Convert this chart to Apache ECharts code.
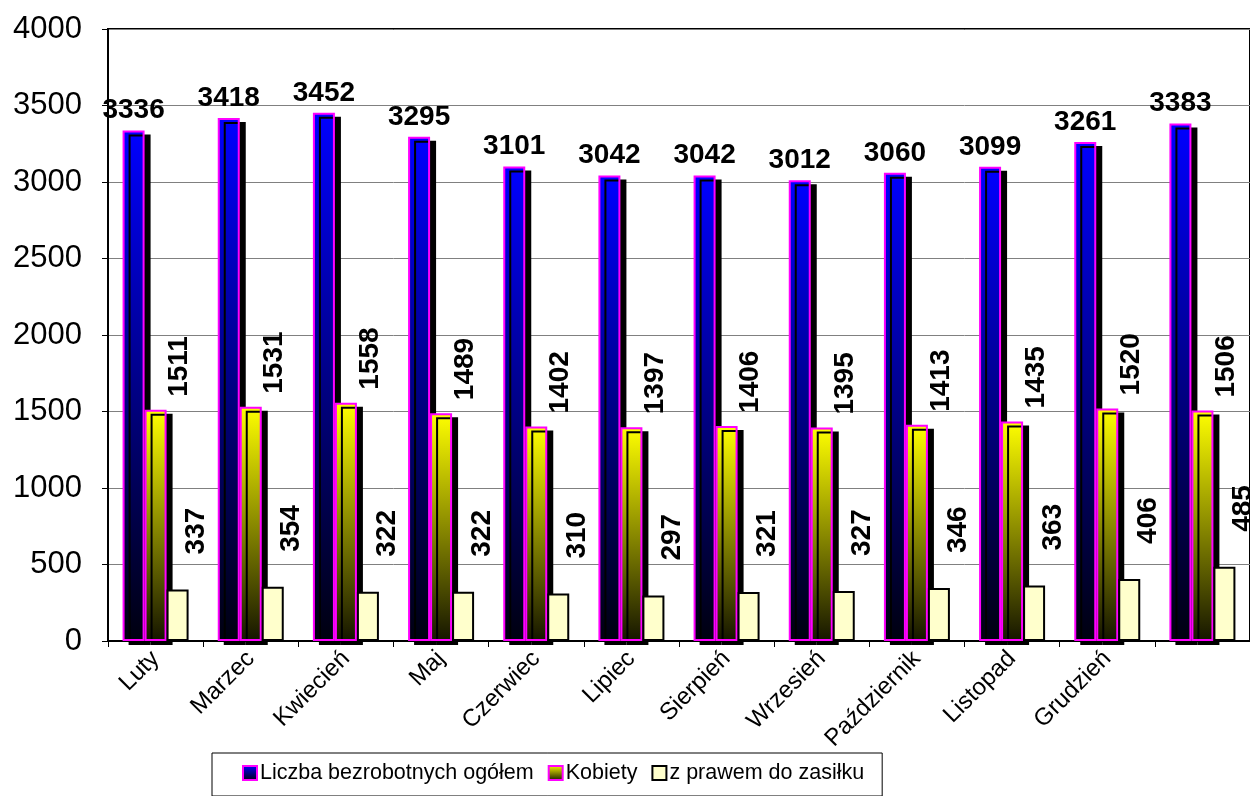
<!DOCTYPE html>
<html>
<head>
<meta charset="utf-8">
<script src="https://cdn.jsdelivr.net/npm/echarts@6/dist/echarts.min.js"></script>
<style>
  html, body { margin: 0; padding: 0; background: #fff; }
  #chart { width: 1250px; height: 796px; }
</style>
</head>
<body>
<div id="chart"></div>
<script>
const months = ['Luty', 'Marzec', 'Kwiecień', 'Maj', 'Czerwiec', 'Lipiec', 'Sierpień', 'Wrzesień', 'Październik', 'Listopad', 'Grudzień', '']
const totalUnemployed = [3336, 3418, 3452, 3295, 3101, 3042, 3042, 3012, 3060, 3099, 3261, 3383]
const women = [1511, 1531, 1558, 1489, 1402, 1397, 1406, 1395, 1413, 1435, 1520, 1506]
const withBenefit = [337, 354, 322, 322, 310, 297, 321, 327, 346, 363, 406, 485]
const seriesNames = ['Liczba bezrobotnych ogółem', 'Kobiety', 'z prawem do zasiłku']

const font = 'Arial, "Liberation Sans", sans-serif'

const chart = echarts.init(document.getElementById('chart'), null, { renderer: 'canvas' })

const grad = (top, bottom) => new echarts.graphic.LinearGradient(0, 0, 0, 1, [
  { offset: 0, color: top },
  { offset: 1, color: bottom }
])

const rotatedLabel = (pos) => ({
  show: true,
  position: pos,
  rotate: 90,
  align: 'left',
  verticalAlign: 'middle',
  color: '#000',
  fontFamily: font,
  fontWeight: 'bold',
  fontSize: 28
})

const option = {
  backgroundColor: '#fff',
  animation: false,
  grid: {
    left: 108,
    top: 29,
    width: 1156,
    height: 612,
    show: true,
    borderColor: '#000',
    borderWidth: 2,
    containLabel: false
  },
  legend: {
    data: seriesNames,
    left: 212,
    top: 753,
    orient: 'horizontal',
    borderColor: '#000',
    borderWidth: 1,
    padding: [9, 18, 12, 30],
    itemGap: 14,
    itemWidth: 14,
    itemHeight: 14,
    icon: 'rect',
    textStyle: {
      color: '#000',
      fontFamily: font,
      fontSize: 21.5,
      padding: [0, 0, 0, -2]
    }
  },
  xAxis: {
    type: 'category',
    data: months,
    axisLine: { lineStyle: { color: '#000', width: 2 } },
    axisTick: { show: true, length: 6, lineStyle: { color: '#000' } },
    axisLabel: {
      color: '#000',
      fontFamily: font,
      fontSize: 24,
      rotate: 45,
      interval: 0,
      margin: 14
    },
    splitLine: { show: false }
  },
  yAxis: {
    type: 'value',
    min: 0,
    max: 4000,
    interval: 500,
    axisLine: { show: true, lineStyle: { color: '#000', width: 2 } },
    axisTick: { show: true, length: 6, lineStyle: { color: '#000' } },
    axisLabel: {
      color: '#000',
      fontFamily: font,
      fontSize: 31,
      margin: 26,
      formatter: (v) => String(v)
    },
    splitLine: { show: true, lineStyle: { color: '#808080', width: 1 } }
  },
  series: [
    {
      name: seriesNames[0],
      type: 'bar',
      data: totalUnemployed,
      barWidth: 22,
      barGap: '0%',
      itemStyle: {
        color: grad('#0000ff', '#00000f'),
        borderColor: '#ff00ff',
        borderWidth: 2,
        shadowColor: '#000',
        shadowBlur: 0,
        shadowOffsetX: 6,
        shadowOffsetY: 4
      },
      label: {
        show: true,
        position: 'top',
        distance: 6,
        color: '#000',
        fontFamily: font,
        fontWeight: 'bold',
        fontSize: 28
      }
    },
    {
      name: seriesNames[1],
      type: 'bar',
      data: women,
      barWidth: 22,
      barGap: '0%',
      itemStyle: {
        color: grad('#ffff00', '#151500'),
        borderColor: '#ff00ff',
        borderWidth: 2,
        shadowColor: '#000',
        shadowBlur: 0,
        shadowOffsetX: 6,
        shadowOffsetY: 4
      },
      label: rotatedLabel([35, -13])
    },
    {
      name: seriesNames[2],
      type: 'bar',
      data: withBenefit,
      barWidth: 22,
      barGap: '0%',
      itemStyle: {
        color: '#ffffcc',
        borderColor: '#000',
        borderWidth: 2
      },
      label: rotatedLabel([30, -35])
    }
  ]
}

chart.setOption(option)
</script>
</body>
</html>
